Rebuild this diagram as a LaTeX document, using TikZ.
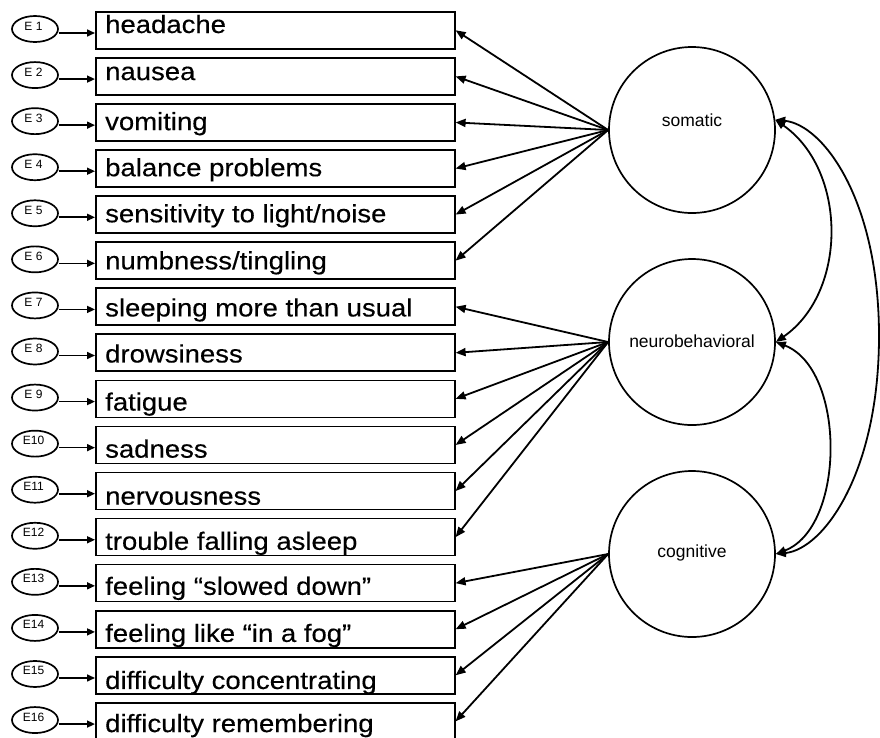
\documentclass[tikz,border=0pt]{standalone}
\usepackage{fontspec}
\setmainfont{Liberation Sans}
\newfontfamily\itemfont[FakeStretch=1.1,FakeBold=0.3]{Liberation Sans}
\usetikzlibrary{arrows.meta,shapes.geometric}

\tikzset{
  obsbox/.style={draw, line width=1.6pt, minimum width=359pt, minimum height=37pt,
    inner sep=0pt, anchor=north west},
  itemlabel/.style={font=\itemfont\fontsize{25}{25}\selectfont, inner sep=0pt, anchor=base west},
  errnode/.style={draw, ellipse, line width=1.7pt, minimum width=46pt, minimum height=26pt, inner sep=0pt},
  errlabel/.style={font=\fontsize{12}{12}\selectfont, inner sep=0pt, anchor=base},
  latent/.style={draw, circle, line width=1.7pt, minimum size=166pt, inner sep=0pt},
  latlabel/.style={font=\fontsize{17.5}{17.5}\selectfont, inner sep=0pt},
  errarrow/.style={line width=1.6pt, -{Triangle[length=8pt,width=7pt]}},
  loadarrow/.style={line width=1.8pt, -{Triangle[length=10pt,width=8pt]}},
  corrarrow/.style={line width=1.8pt,
    {Triangle[length=10pt,width=8pt]}-{Triangle[length=10pt,width=8pt]}},
}

% one observed item: index, baseline offset, error label, item text
\newcommand{\obsitem}[4]{%
  \pgfmathsetmacro{\boxtop}{11+46.07*(#1-1)}%
  \node[obsbox] (b#1) at (95,\boxtop) {};
  \node[itemlabel] (t#1) at ([xshift=10pt,yshift=-#2pt]b#1.north west) {#4};
  \node[errnode] (e#1) at (35,\boxtop+18) {};
  \node[errlabel] (l#1) at ([xshift=-1.5pt,yshift=-1pt]e#1.center) {#3};
  \coordinate (s#1) at ([yshift=-4pt]e#1.east);
  \draw[errarrow] (s#1) -- (s#1 -| b#1.west);
}

\begin{document}
\begin{tikzpicture}[x=1pt,y=-1pt]
\useasboundingbox (0,0) rectangle (880,737);
\fill[white] (0,0) rectangle (880,737);

% observed symptoms with their error terms
\obsitem{1}{22}{E 1}{headache}
\obsitem{2}{23}{E 2}{nausea}
\obsitem{3}{27}{E 3}{vomiting}
\obsitem{4}{27}{E 4}{balance problems}
\obsitem{5}{27}{E 5}{sensitivity to light/noise}
\obsitem{6}{28}{E 6}{numbness/tingling}
\obsitem{7}{29}{E 7}{sleeping more than usual}
\obsitem{8}{29}{E 8}{drowsiness}
\obsitem{9}{31}{E 9}{fatigue}
\obsitem{10}{32}{E10}{sadness}
\obsitem{11}{33}{E11}{nervousness}
\obsitem{12}{32}{E12}{trouble falling asleep}
\obsitem{13}{31}{E13}{feeling “slowed down”}
\obsitem{14}{32}{E14}{feeling like “in a fog”}
\obsitem{15}{33}{E15}{difficulty concentrating}
\obsitem{16}{30}{E16}{difficulty remembering}

% latent factors
\node[latent] (som) at (692,130) {};
\node[latlabel] (somL) at (692,120) {somatic};
\node[latent] (neu) at (692,342) {};
\node[latlabel] (neuL) at (692,341) {neurobehavioral};
\node[latent] (cog) at (692,554) {};
\node[latlabel] (cogL) at (692,553) {cognitive};

% factor loadings
\foreach \i in {1,...,6} \draw[loadarrow] (som.west) -- (b\i.east);
\foreach \i in {7,...,12} \draw[loadarrow] (neu.west) -- (b\i.east);
\foreach \i in {13,...,16} \draw[loadarrow] (cog.west) -- (b\i.east);

% factor correlations
\draw[corrarrow] (som.7) .. controls +(72,50) and +(72,-50) .. (neu.east);
\draw[corrarrow] (neu.east) .. controls +(70,27) and +(70,-27) .. (cog.east);
\coordinate (bend) at (879,336);
\draw[corrarrow] (som.7) .. controls +(48,5) and +(0,-136) .. (bend)
  .. controls +(0,136) and +(48,-5) .. (cog.east);
\end{tikzpicture}
\end{document}
